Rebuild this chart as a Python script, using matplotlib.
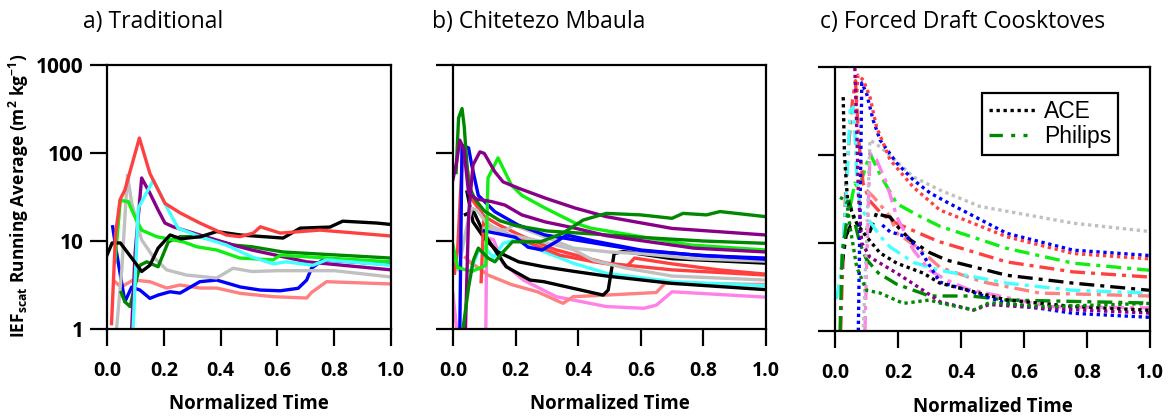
import matplotlib
matplotlib.use("Agg")
import matplotlib.pyplot as plt
from matplotlib.lines import Line2D
from matplotlib.ticker import NullLocator, FixedLocator

plt.rcParams['font.family'] = ['Open Sans', 'DejaVu Sans']
plt.rcParams['mathtext.fontset'] = 'custom'
plt.rcParams['mathtext.rm'] = 'Open Sans:bold'
plt.rcParams['mathtext.it'] = 'Open Sans:bold'
plt.rcParams['mathtext.bf'] = 'Open Sans:bold'

# ---------------- data ----------------
x_ticks = [0.0, 0.2, 0.4, 0.6, 0.8, 1.0]
x_tick_labels = ['0.0', '0.2', '0.4', '0.6', '0.8', '1.0']
y_ticks = [1, 10, 100, 1000]
y_tick_labels = ['1', '10', '100', '1000']
titles = ['a) Traditional', 'b) Chitetezo Mbaula', 'c) Forced Draft Coosktoves']
legend_labels = ['ACE', 'Philips']

# panel a: Traditional
a_black_t = [0.0, 0.018, 0.047, 0.092, 0.122, 0.151, 0.18, 0.222, 0.26, 0.33, 0.386, 0.47, 0.62, 0.68, 0.785, 0.83, 0.95, 1.0]
a_black_v = [6.9, 9.5, 9.5, 6.1, 4.5, 5.3, 8.3, 11.7, 10.6, 11.2, 12.8, 11.7, 10.8, 14.0, 14.4, 16.8, 16.0, 15.4]
a_red_t = [0.016, 0.03, 0.046, 0.063, 0.114, 0.151, 0.204, 0.257, 0.327, 0.42, 0.468, 0.515, 0.54, 0.61, 0.75, 1.0]
a_red_v = [1.15, 12, 29.5, 38, 148, 58.6, 26.8, 20.9, 16, 11.7, 11.2, 12.3, 14.5, 12.3, 13.3, 11.4]
a_gray_t = [0.034, 0.052, 0.072, 0.087, 0.122, 0.163, 0.21, 0.28, 0.386, 0.444, 0.51, 0.6, 0.8, 1.0]
a_gray_v = [1.03, 4.7, 56, 27, 10.3, 6.6, 4.7, 4.1, 3.8, 4.9, 4.5, 4.6, 4.6, 3.9]
a_green_t = [0.028, 0.047, 0.075, 0.092, 0.122, 0.175, 0.268, 0.316, 0.386, 0.468, 0.585, 0.61, 1.0]
a_green_v = [5.8, 29, 28, 20.8, 13.3, 11.2, 9.8, 8.6, 7.9, 6.4, 6.1, 6.9, 5.8]
a_dkgreen_t = [0.05, 0.063, 0.081, 0.116, 0.14, 0.18, 0.216, 0.257, 0.327, 0.444, 0.51, 0.62, 1.0]
a_dkgreen_v = [2.6, 2.04, 1.8, 5.3, 5.8, 5.1, 9.8, 11.2, 11.2, 9.0, 8.6, 7.5, 6.4]
a_purple_t = [0.087, 0.099, 0.122, 0.151, 0.18, 0.204, 0.233, 0.327, 0.444, 0.51, 0.703, 1.0]
a_purple_v = [1.03, 7.3, 52, 35, 22.5, 16, 14.5, 11.7, 9.0, 7.9, 5.8, 4.7]
a_cyan_t = [0.092, 0.11, 0.163, 0.21, 0.25, 0.327, 0.42, 0.51, 0.585, 0.63, 0.725, 0.773, 1.0]
a_cyan_v = [1.0, 23.6, 49, 24.5, 14, 11.2, 9.0, 6.6, 5.5, 5.8, 5.3, 6.1, 5.3]
a_blue_t = [0.02, 0.034, 0.063, 0.087, 0.116, 0.151, 0.18, 0.222, 0.257, 0.327, 0.386, 0.47, 0.54, 0.61, 0.673, 0.703, 0.72, 0.76, 1.0]
a_blue_v = [14.5, 7.3, 2.04, 3.0, 2.77, 2.23, 2.43, 2.65, 2.56, 3.45, 3.6, 3.0, 2.77, 2.72, 2.9, 3.6, 4.9, 6.1, 5.4]
a_salmon_t = [0.028, 0.05, 0.092, 0.151, 0.21, 0.257, 0.327, 0.386, 0.47, 0.585, 0.703, 0.72, 0.773, 1.0]
a_salmon_v = [3.45, 3.0, 3.6, 3.45, 2.92, 3.16, 2.92, 2.92, 2.54, 2.33, 2.25, 2.6, 3.45, 3.25]

# panel b: Chitetezo Mbaula
b_dkgreenA_t = [0.01, 0.018, 0.029, 0.036, 0.044, 0.05, 0.07, 0.1, 0.15, 0.2, 0.3, 0.45, 0.6, 0.8, 1.0]
b_dkgreenA_v = [60, 250, 320, 200, 80, 43, 30, 22, 17, 15, 13, 12, 11, 10, 9.4]
b_dkgreenB_t = [0.032, 0.05, 0.065, 0.081, 0.112, 0.134, 0.16, 0.19, 0.28, 0.35, 0.416, 0.49, 0.6, 0.7, 0.735, 0.81, 0.853, 1.0]
b_dkgreenB_v = [1.0, 3, 6, 8.3, 6.4, 5.8, 7.5, 9.8, 9.8, 12.2, 17.3, 20.6, 19.8, 18.1, 20.6, 19.8, 21.6, 18.9]
b_green_t = [0.0, 0.015, 0.06, 0.105, 0.112, 0.144, 0.166, 0.187, 0.22, 0.294, 0.39, 0.44, 0.6, 0.76, 1.0]
b_green_v = [9, 5, 4.5, 5.3, 52, 88, 61, 43, 33, 23.7, 16, 14, 11.2, 9, 7.9]
b_purpleA_t = [0.0, 0.012, 0.022, 0.035, 0.05, 0.075, 0.124, 0.166, 0.22, 0.294, 0.39, 0.49, 0.77, 1.0]
b_purpleA_v = [50, 80, 140, 110, 35, 30, 28, 25.6, 19.8, 16.5, 14, 11.5, 8.3, 7.5]
b_purpleB_t = [0.04, 0.05, 0.064, 0.086, 0.1, 0.134, 0.16, 0.208, 0.294, 0.39, 0.49, 0.7, 1.0]
b_purpleB_v = [1.0, 20, 73, 103, 99, 61, 47, 40, 30.8, 23.7, 18.9, 13.9, 11.7]
b_blueA_t = [0.022, 0.029, 0.05, 0.06, 0.081, 0.134, 0.208, 0.294, 0.39, 0.49, 0.6, 0.76, 1.0]
b_blueA_v = [1.0, 123, 114, 73, 33, 21.5, 15.2, 11.7, 10.3, 9.0, 7.8, 7.0, 6.2]
b_blueB_t = [0.1, 0.15, 0.2, 0.24, 0.285, 0.33, 0.363, 0.45, 0.6, 0.8, 1.0]
b_blueB_v = [13, 12, 11, 8.5, 7.9, 9.8, 11.7, 10, 7.9, 6.8, 6.4]
b_redA_t = [0.005, 0.015, 0.03, 0.045, 0.06, 0.1, 0.15, 0.225, 0.33, 0.49, 0.7, 1.0]
b_redA_v = [4.3, 8, 90, 70, 30, 19, 15, 11.2, 7.9, 5.6, 4.7, 4.1]
b_redB_t = [0.09, 0.098, 0.13, 0.2, 0.342, 0.45, 0.555, 0.58, 0.7, 0.85, 1.0]
b_redB_v = [3.45, 17, 14, 11, 6.9, 5.8, 5.1, 6.4, 5.5, 4.7, 4.2]
b_grayA_t = [0.017, 0.044, 0.06, 0.076, 0.108, 0.17, 0.278, 0.384, 0.45, 0.555, 0.7, 1.0]
b_grayA_v = [4.7, 14.5, 23.5, 22.5, 16, 12, 10, 8.0, 6.0, 4.9, 4.0, 3.6]
b_grayB_t = [0.1, 0.17, 0.193, 0.278, 0.385, 0.5, 0.6, 0.77, 1.0]
b_grayB_v = [14, 13.3, 15.2, 11.7, 8.3, 7.5, 7.2, 6.3, 5.9]
b_blackA_t = [0.045, 0.064, 0.1, 0.144, 0.21, 0.29, 0.39, 0.49, 0.7, 1.0]
b_blackA_v = [36, 16.5, 10.8, 7.5, 5.8, 5.1, 4.5, 4.0, 3.3, 2.8]
b_blackB_t = [0.04, 0.065, 0.1, 0.17, 0.246, 0.29, 0.384, 0.48, 0.496, 0.515, 0.544, 0.7, 1.0]
b_blackB_v = [20, 22, 12, 5.1, 3.6, 3.45, 2.9, 2.43, 2.77, 7.2, 7.6, 6.3, 5.6]
b_cyan_t = [0.06, 0.08, 0.1, 0.13, 0.16, 0.2, 0.278, 0.384, 0.49, 0.7, 1.0]
b_cyan_v = [5, 7.5, 8.5, 6.5, 9.4, 10.3, 7.9, 5.6, 4.3, 3.45, 3.1]
b_salmon_t = [0.04, 0.06, 0.07, 0.112, 0.187, 0.27, 0.34, 0.352, 0.384, 0.49, 0.65, 0.677, 0.757, 1.0]
b_salmon_v = [6.5, 5.5, 5.3, 4.1, 3.2, 2.65, 2.04, 1.96, 2.33, 2.43, 2.6, 3.3, 3.3, 3.2]
b_pinkA_t = [0.0, 0.012]
b_pinkA_v = [2.5, 1.0]
b_pinkB_t = [0.105, 0.108, 0.13, 0.16, 0.225, 0.33, 0.49, 0.61, 0.65, 0.7, 1.0]
b_pinkB_v = [1.0, 11, 10.3, 5.6, 3.6, 2.33, 1.8, 1.72, 1.87, 2.65, 2.3]

# panel c: forced draft cookstoves, ACE (dotted)
c_ace_gray_t = [0.09, 0.1, 0.111, 0.143, 0.25, 0.333, 0.46, 0.545, 0.756, 1.0]
c_ace_gray_v = [1.1, 10, 148, 124, 56, 40, 26, 23, 16.8, 13.5]
c_ace_blueA_t = [0.074, 0.08, 0.085, 0.1, 0.121, 0.143, 0.196, 0.249, 0.302, 0.36, 0.545, 0.756, 1.0]
c_ace_blueA_v = [1.0, 30, 660, 505, 250, 148, 81, 52, 37, 28.5, 12.9, 8.3, 7.2]
c_ace_blueB_t = [0.15, 0.175, 0.227, 0.27, 0.333, 0.407, 0.545, 0.756, 1.0]
c_ace_blueB_v = [16, 13.4, 11.8, 8.3, 3.6, 3.0, 2.06, 1.59, 1.43]
c_ace_red_t = [0.065, 0.073, 0.09, 0.111, 0.132, 0.175, 0.249, 0.333, 0.545, 0.756, 1.0]
c_ace_red_v = [300, 810, 710, 455, 208, 88, 43, 23.7, 11.8, 7.6, 6.6]
c_ace_purple_t = [0.063, 0.069, 0.074, 0.085, 0.111, 0.196, 0.28, 0.333, 0.44, 0.49, 0.672, 1.0]
c_ace_purple_v = [980, 208, 37, 10, 6.9, 4.55, 2.9, 2.15, 1.73, 2.0, 1.8, 1.6]
c_ace_black_t = [0.026, 0.03, 0.04, 0.069, 0.1, 0.143, 0.196, 0.28, 0.333, 0.545, 0.756, 1.0]
c_ace_black_v = [455, 100, 30, 16.7, 11.8, 7.7, 5.9, 4.55, 3.5, 2.25, 1.9, 1.72]
c_ace_dkgreen_t = [0.016, 0.037, 0.048, 0.069, 0.1, 0.143, 0.217, 0.3, 0.333, 0.44, 0.49, 0.672, 1.0]
c_ace_dkgreen_v = [33, 30, 15, 5.3, 2.9, 2.7, 2.06, 2.25, 2.08, 1.73, 2.1, 1.89, 2.06]

# panel c: Philips (dash-dot)
c_ph_green_t = [0.05, 0.063, 0.074, 0.09, 0.111, 0.143, 0.196, 0.27, 0.333, 0.545, 0.756, 1.0]
c_ph_green_v = [28, 48, 42, 60, 104, 60, 28, 20, 15.5, 8.7, 5.9, 4.9]
c_ph_red_t = [0.018, 0.022, 0.028, 0.035, 0.045, 0.055, 0.065, 0.075, 0.089, 0.111, 0.15, 0.196, 0.3, 0.333, 0.545, 0.756, 1.0]
c_ph_red_v = [1.0, 3, 10, 50, 150, 400, 700, 150, 48, 30, 21, 16.7, 11.5, 10.3, 6.1, 4.7, 4.1]
c_ph_salmon_t = [0.1, 0.122, 0.175, 0.196, 0.26, 0.333, 0.47, 0.65, 1.0]
c_ph_salmon_v = [40, 33.5, 20, 13, 9, 5.3, 3.6, 2.7, 2.5]
c_ph_black_t = [0.02, 0.035, 0.05, 0.089, 0.111, 0.133, 0.143, 0.175, 0.2, 0.24, 0.3, 0.354, 0.545, 0.756, 1.0]
c_ph_black_v = [5, 12, 16, 16, 13.5, 22.5, 21, 19.7, 15.2, 10.8, 7.8, 6.4, 4.3, 3.5, 2.9]
c_ph_cyan_t = [0.005, 0.02, 0.035, 0.048, 0.058, 0.063, 0.07, 0.08, 0.1, 0.143, 0.175, 0.25, 0.333, 0.545, 0.756, 1.0]
c_ph_cyan_v = [2.3, 5, 30, 320, 350, 178, 50, 25, 20, 12, 9, 6, 4.9, 3.5, 2.9, 2.7]
c_ph_pink_t = [0.095, 0.1, 0.111, 0.132, 0.164, 0.196, 0.249, 0.3, 0.354, 0.42, 0.68, 1.0]
c_ph_pink_v = [1.0, 5, 104, 88, 47.5, 20, 8.3, 4.9, 3.8, 3.0, 1.89, 1.83]
c_ph_dkgreen_t = [0.016, 0.023, 0.032, 0.045, 0.053, 0.079, 0.1, 0.138, 0.196, 0.3, 0.43, 0.545, 1.0]
c_ph_dkgreen_v = [1.0, 8, 12.8, 30, 23.6, 9.9, 6.5, 4.55, 3.4, 2.5, 2.5, 2.25, 2.08]

# ---------------- style ----------------
BLACK = '#000000'; RED = '#ff4040'; SALMON = '#ff8080'; GRAY = '#c0c0c0'
GREEN = '#11ee11'; DKGREEN = '#008800'; PURPLE = '#880088'; CYAN = '#44ffff'
BLUE = '#0000ff'; PINK = '#ff80e8'
LW = 2.4
DOT = (0, (1.0, 1.1))
DASHDOT = (0, (4.5, 1.8, 1.2, 1.8))

fig = plt.figure(figsize=(11.68, 4.16), dpi=100)
axa = fig.add_axes([0.0916, 0.2091, 0.2432, 0.6347])
axb = fig.add_axes([0.3878, 0.2091, 0.2680, 0.6347])
axc = fig.add_axes([0.7149, 0.2043, 0.2697, 0.6346])

panel_a = [
    (a_salmon_t, a_salmon_v, SALMON), (a_blue_t, a_blue_v, BLUE),
    (a_gray_t, a_gray_v, GRAY), (a_dkgreen_t, a_dkgreen_v, DKGREEN),
    (a_purple_t, a_purple_v, PURPLE), (a_green_t, a_green_v, GREEN),
    (a_cyan_t, a_cyan_v, CYAN), (a_black_t, a_black_v, BLACK),
    (a_red_t, a_red_v, RED),
]
for t, v, c in panel_a:
    axa.plot(t, v, color=c, lw=LW, solid_joinstyle='round')

panel_b = [
    (b_pinkA_t, b_pinkA_v, PINK), (b_pinkB_t, b_pinkB_v, PINK),
    (b_salmon_t, b_salmon_v, SALMON), (b_cyan_t, b_cyan_v, CYAN),
    (b_blackA_t, b_blackA_v, BLACK), (b_blackB_t, b_blackB_v, BLACK),
    (b_redA_t, b_redA_v, RED), (b_redB_t, b_redB_v, RED),
    (b_grayA_t, b_grayA_v, GRAY), (b_grayB_t, b_grayB_v, GRAY),
    (b_blueB_t, b_blueB_v, BLUE), (b_blueA_t, b_blueA_v, BLUE),
    (b_green_t, b_green_v, GREEN), (b_dkgreenA_t, b_dkgreenA_v, DKGREEN),
    (b_purpleA_t, b_purpleA_v, PURPLE), (b_purpleB_t, b_purpleB_v, PURPLE),
    (b_dkgreenB_t, b_dkgreenB_v, DKGREEN),
]
for t, v, c in panel_b:
    axb.plot(t, v, color=c, lw=LW, solid_joinstyle='round')

panel_c_ace = [
    (c_ace_gray_t, c_ace_gray_v, GRAY), (c_ace_blueA_t, c_ace_blueA_v, BLUE),
    (c_ace_blueB_t, c_ace_blueB_v, BLUE), (c_ace_red_t, c_ace_red_v, RED),
    (c_ace_purple_t, c_ace_purple_v, PURPLE), (c_ace_black_t, c_ace_black_v, BLACK),
    (c_ace_dkgreen_t, c_ace_dkgreen_v, DKGREEN),
]
panel_c_ph = [
    (c_ph_green_t, c_ph_green_v, GREEN), (c_ph_red_t, c_ph_red_v, RED),
    (c_ph_salmon_t, c_ph_salmon_v, SALMON), (c_ph_black_t, c_ph_black_v, BLACK),
    (c_ph_cyan_t, c_ph_cyan_v, CYAN), (c_ph_pink_t, c_ph_pink_v, PINK),
    (c_ph_dkgreen_t, c_ph_dkgreen_v, DKGREEN),
]
for t, v, c in panel_c_ph:
    axc.plot(t, v, color=c, lw=LW, linestyle=DASHDOT, dash_capstyle='butt')
for t, v, c in panel_c_ace:
    axc.plot(t, v, color=c, lw=LW, linestyle=DOT, dash_capstyle='butt')

for i, ax in enumerate([axa, axb, axc]):
    ax.set_yscale('log')
    ax.set_xlim(0, 1)
    ax.set_ylim(1, 1000)
    ax.yaxis.set_major_locator(FixedLocator(y_ticks))
    ax.yaxis.set_minor_locator(NullLocator())
    ax.set_xticks(x_ticks)
    ax.set_xticklabels(x_tick_labels, fontsize=14, fontweight='bold')
    if i == 0:
        ax.set_yticklabels(y_tick_labels, fontsize=15, fontweight='bold')
    else:
        ax.set_yticklabels([])
    ax.tick_params(axis='x', direction='out', length=12, width=1.6, pad=11)
    ax.tick_params(axis='y', direction='out', length=12, width=1.6, pad=5)
    for s in ax.spines.values():
        s.set_linewidth(1.6)

# legend
h_ace = Line2D([], [], color=BLACK, lw=LW, linestyle=DOT, dash_capstyle='butt')
h_ph = Line2D([], [], color=DKGREEN, lw=LW, linestyle=(0, (4.0, 2.5, 1.2, 2.5, 1.2, 2.5)), dash_capstyle='butt')
leg = axc.legend([h_ace, h_ph], legend_labels, loc='upper left', bbox_to_anchor=(0.43, 0.945),
                 fancybox=False, framealpha=1, edgecolor='black',
                 handlelength=2.0, handletextpad=0.4, borderpad=0.3, labelspacing=0.1,
                 prop={'family': ['Liberation Sans', 'DejaVu Sans'], 'size': 16.5})
leg.get_frame().set_linewidth(1.6)

# titles
fig.text(0.071, 0.947, titles[0], fontsize=16.5, ha='left', va='center')
fig.text(0.370, 0.947, titles[1], fontsize=16.5, ha='left', va='center')
fig.text(0.702, 0.947, titles[2], fontsize=16.5, ha='left', va='center')

# x labels
for ax, y in [(axa, 0.029), (axb, 0.029), (axc, 0.021)]:
    pos = ax.get_position()
    fig.text(pos.x0 + pos.width / 2, y, 'Normalized Time', fontsize=13.5,
             fontweight='bold', ha='center', va='center')

# y label
fig.text(0.016, 0.53, r'IEF$_{scat}$ Running Average (m$^{2}$ kg$^{-1}$)',
         rotation=90, fontsize=12.5, fontweight='bold', ha='center', va='center')

fig.savefig('out.png', dpi=100)
